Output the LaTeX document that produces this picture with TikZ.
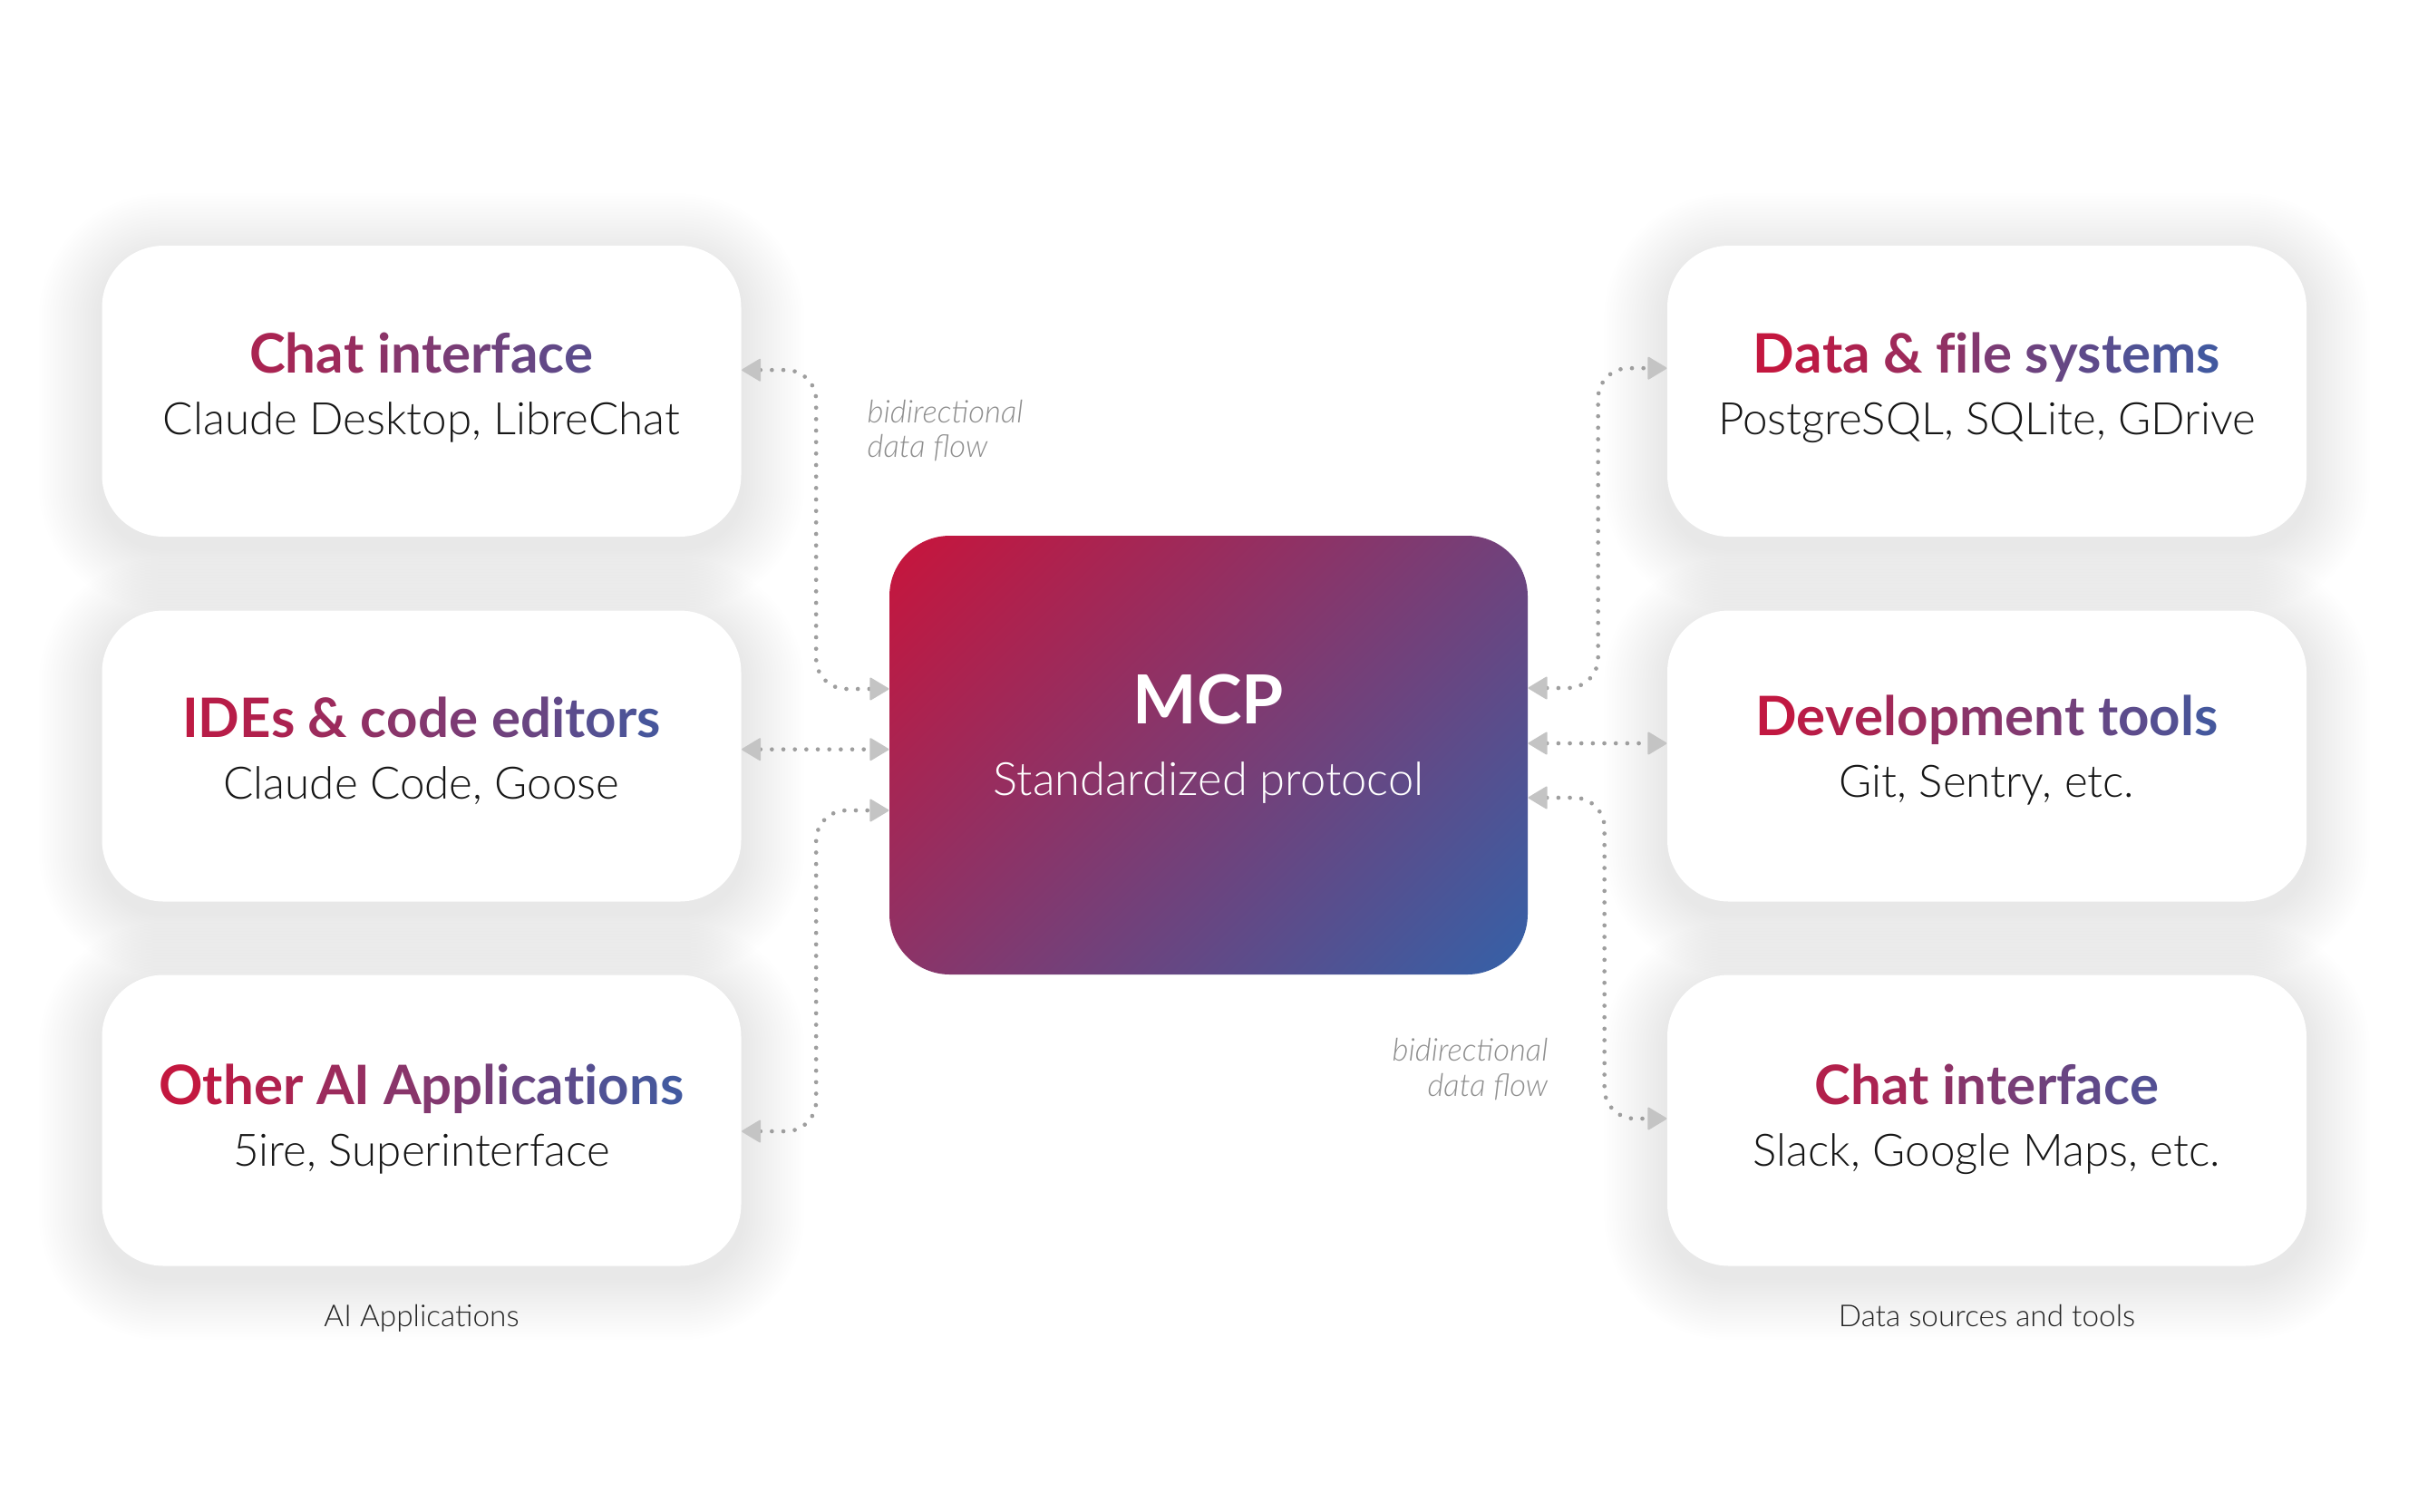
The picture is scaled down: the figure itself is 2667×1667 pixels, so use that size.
\documentclass[tikz,border=0pt]{standalone}
\usepackage{fontspec}
\setmainfont{Lato}[UprightFont={* Light}, BoldFont={* Bold}, ItalicFont={* Light Italic}, BoldItalicFont={* Bold Italic}]
\usetikzlibrary{arrows.meta,calc}
\pgfdeclarelayer{background}
\pgfsetlayers{background,main}
\definecolor{gradA}{HTML}{C3173F}
\definecolor{gradB}{HTML}{42599F}
\definecolor{mcpA}{HTML}{C8143B}
\definecolor{mcpB}{HTML}{3461A8}
\colorlet{mcpM}{mcpA!50!mcpB}
\definecolor{bodytext}{HTML}{161616}
\definecolor{labeltext}{HTML}{222222}
\definecolor{bidir}{HTML}{8E8E8E}
\definecolor{dotgray}{HTML}{9E9E9E}
\definecolor{arrgray}{HTML}{C4C4C4}
\pgfdeclarehorizontalshading{mcpshade}{100bp}{color(0bp)=(mcpA); color(14.6bp)=(mcpA); color(50bp)=(mcpM); color(85.4bp)=(mcpB); color(100bp)=(mcpB)}
\makeatletter
\newcount\gt@n \newcount\gt@i
\newcommand\gradtext[3]{%
  \gt@n=0 \@tfor\gt@c:=#3\do{\advance\gt@n by 1 }%
  \advance\gt@n by -1 \gt@i=0 %
  \@tfor\gt@c:=#3\do{%
    \edef\gt@p{\the\numexpr #1 + (#2-#1)*\gt@i/\gt@n\relax}%
    \textcolor{gradB!\gt@p!gradA}{\gt@c}%
    \advance\gt@i by 1 }%
}
\makeatother
\tikzset{
  card/.style={draw=none, fill=white, rounded corners=20.4pt, minimum width=211.5pt, minimum height=96.3pt, inner sep=0pt},
  mcpbox/.style={draw=none, shade, shading=mcpshade, shading angle=-45, rounded corners=20pt, minimum width=211.2pt, minimum height=145.2pt, inner sep=0pt},
  ttl/.style={anchor=base, inner sep=0pt, font=\bfseries\fontsize{18}{21}\selectfont},
  sub/.style={anchor=base, inner sep=0pt, text=bodytext, font=\fontsize{14.8}{17}\selectfont},
  mcpttl/.style={anchor=base, inner sep=0pt, text=white, font=\bfseries\fontsize{22.4}{26}\selectfont},
  mcpsub/.style={anchor=base, inner sep=0pt, text=white, font=\fontsize{15.2}{18}\selectfont},
  bd/.style={inner sep=0pt, text=bidir, font=\itshape\fontsize{10.4}{12}\selectfont},
  grp/.style={anchor=base, inner sep=0pt, text=labeltext, font=\fontsize{10}{12}\selectfont},
  conn/.style={draw=dotgray, line width=1.4pt, dash pattern=on 0pt off 3.8pt, line cap=round, rounded corners=10pt,
    >={Triangle[length=6.6pt,width=7.8pt,round,line width=0.6pt,color=arrgray]}, <->},
}
\begin{document}
\begin{tikzpicture}[x=0.3pt, y=-0.3pt]
\useasboundingbox (0,0) rectangle (2667,1667);
% cards
\node[card] (L1) at (465,431.5) {};
\node[card] (L2) at (465,834) {};
\node[card] (L3) at (465,1236) {};
\node[card] (R1) at (2191.5,431.5) {};
\node[card] (R2) at (2191.5,834) {};
\node[card] (R3) at (2191.5,1236) {};
\node[mcpbox] (M) at (1333,833) {};
% shadows
\begin{pgfonlayer}{background}
\fill[white] (0,0) rectangle (2667,1667);
\foreach \n in {L1,L2,L3,R1,R2,R3}{
  \foreach \e in {3,6,...,78}{
    \pgfmathsetmacro\rc{(68+\e)*0.3}
    \pgfmathsetmacro\op{0.0045*(1-\e/90)+0.001}
    \fill[black, opacity=\op, rounded corners=\rc pt] ([shift={(-\e,-\e+12)}]\n.north west) rectangle ([shift={(\e,\e+12)}]\n.south east);
  }
}
\end{pgfonlayer}
% texts
\node[ttl] (L1t) at (465,411) {\gradtext{20}{80}{Chat~interface}};
\node[sub] (L1s) at (465,479) {Claude Desktop, LibreChat};
\node[ttl] (L2t) at (465,813) {\gradtext{4}{96}{IDEs~\&~code~editors}};
\node[sub] (L2s) at (465,881) {Claude Code, Goose};
\node[ttl] (L3t) at (465,1218) {\gradtext{0}{100}{Other~AI~Applications}};
\node[sub] (L3s) at (465,1286) {5ire, Superinterface};
\node[ttl] (R1t) at (2191.5,411) {\gradtext{0}{100}{Data~\&~file~systems}};
\node[sub] (R1s) at (2191.5,479) {PostgreSQL, SQLite, GDrive};
\node[ttl] (R2t) at (2191.5,811) {\gradtext{2}{98}{Development~tools}};
\node[sub] (R2s) at (2191.5,879) {Git, Sentry, etc.};
\node[ttl] (R3t) at (2191.5,1218) {\gradtext{13}{87}{Chat~interface}};
\node[sub] (R3s) at (2191.5,1286) {Slack, Google Maps, etc.};
\node[mcpttl] (Mt) at (1333,798) {MCP};
\node[mcpsub] (Ms) at (1333,877) {Standardized protocol};
\node[bd, anchor=base west] (bd1a) at (956,466) {bidirectional};
\node[bd, anchor=base west] (bd1b) at (956,504) {data flow};
\node[bd, anchor=base east] (bd2a) at (1708,1170) {bidirectional};
\node[bd, anchor=base east] (bd2b) at (1708,1209) {data flow};
\node[grp] (gL) at (465,1463) {AI Applications};
\node[grp] (gR) at (2191.5,1463) {Data sources and tools};
% connectors
\draw[conn] ([yshift=7pt]L1.east) -- ++(82,0) |- ([yshift=21.9pt]M.west);
\draw[conn] ([yshift=2.2pt]L2.east) -- ([yshift=2.2pt]L2.east -| M.west);
\draw[conn] ([yshift=-3.6pt]L3.east) -- ++(82,0) |- ([yshift=-18.3pt]M.west);
\draw[conn] ([yshift=22.2pt]M.east) -- ++(77,0) |- ([yshift=7.6pt]R1.west);
\draw[conn] ([yshift=3.9pt]M.east) -- ([yshift=3.9pt]M.east -| R2.west);
\draw[conn] ([yshift=-14.1pt]M.east) -- ++(84,0) |- ([yshift=0.6pt]R3.west);
\end{tikzpicture}
\end{document}
